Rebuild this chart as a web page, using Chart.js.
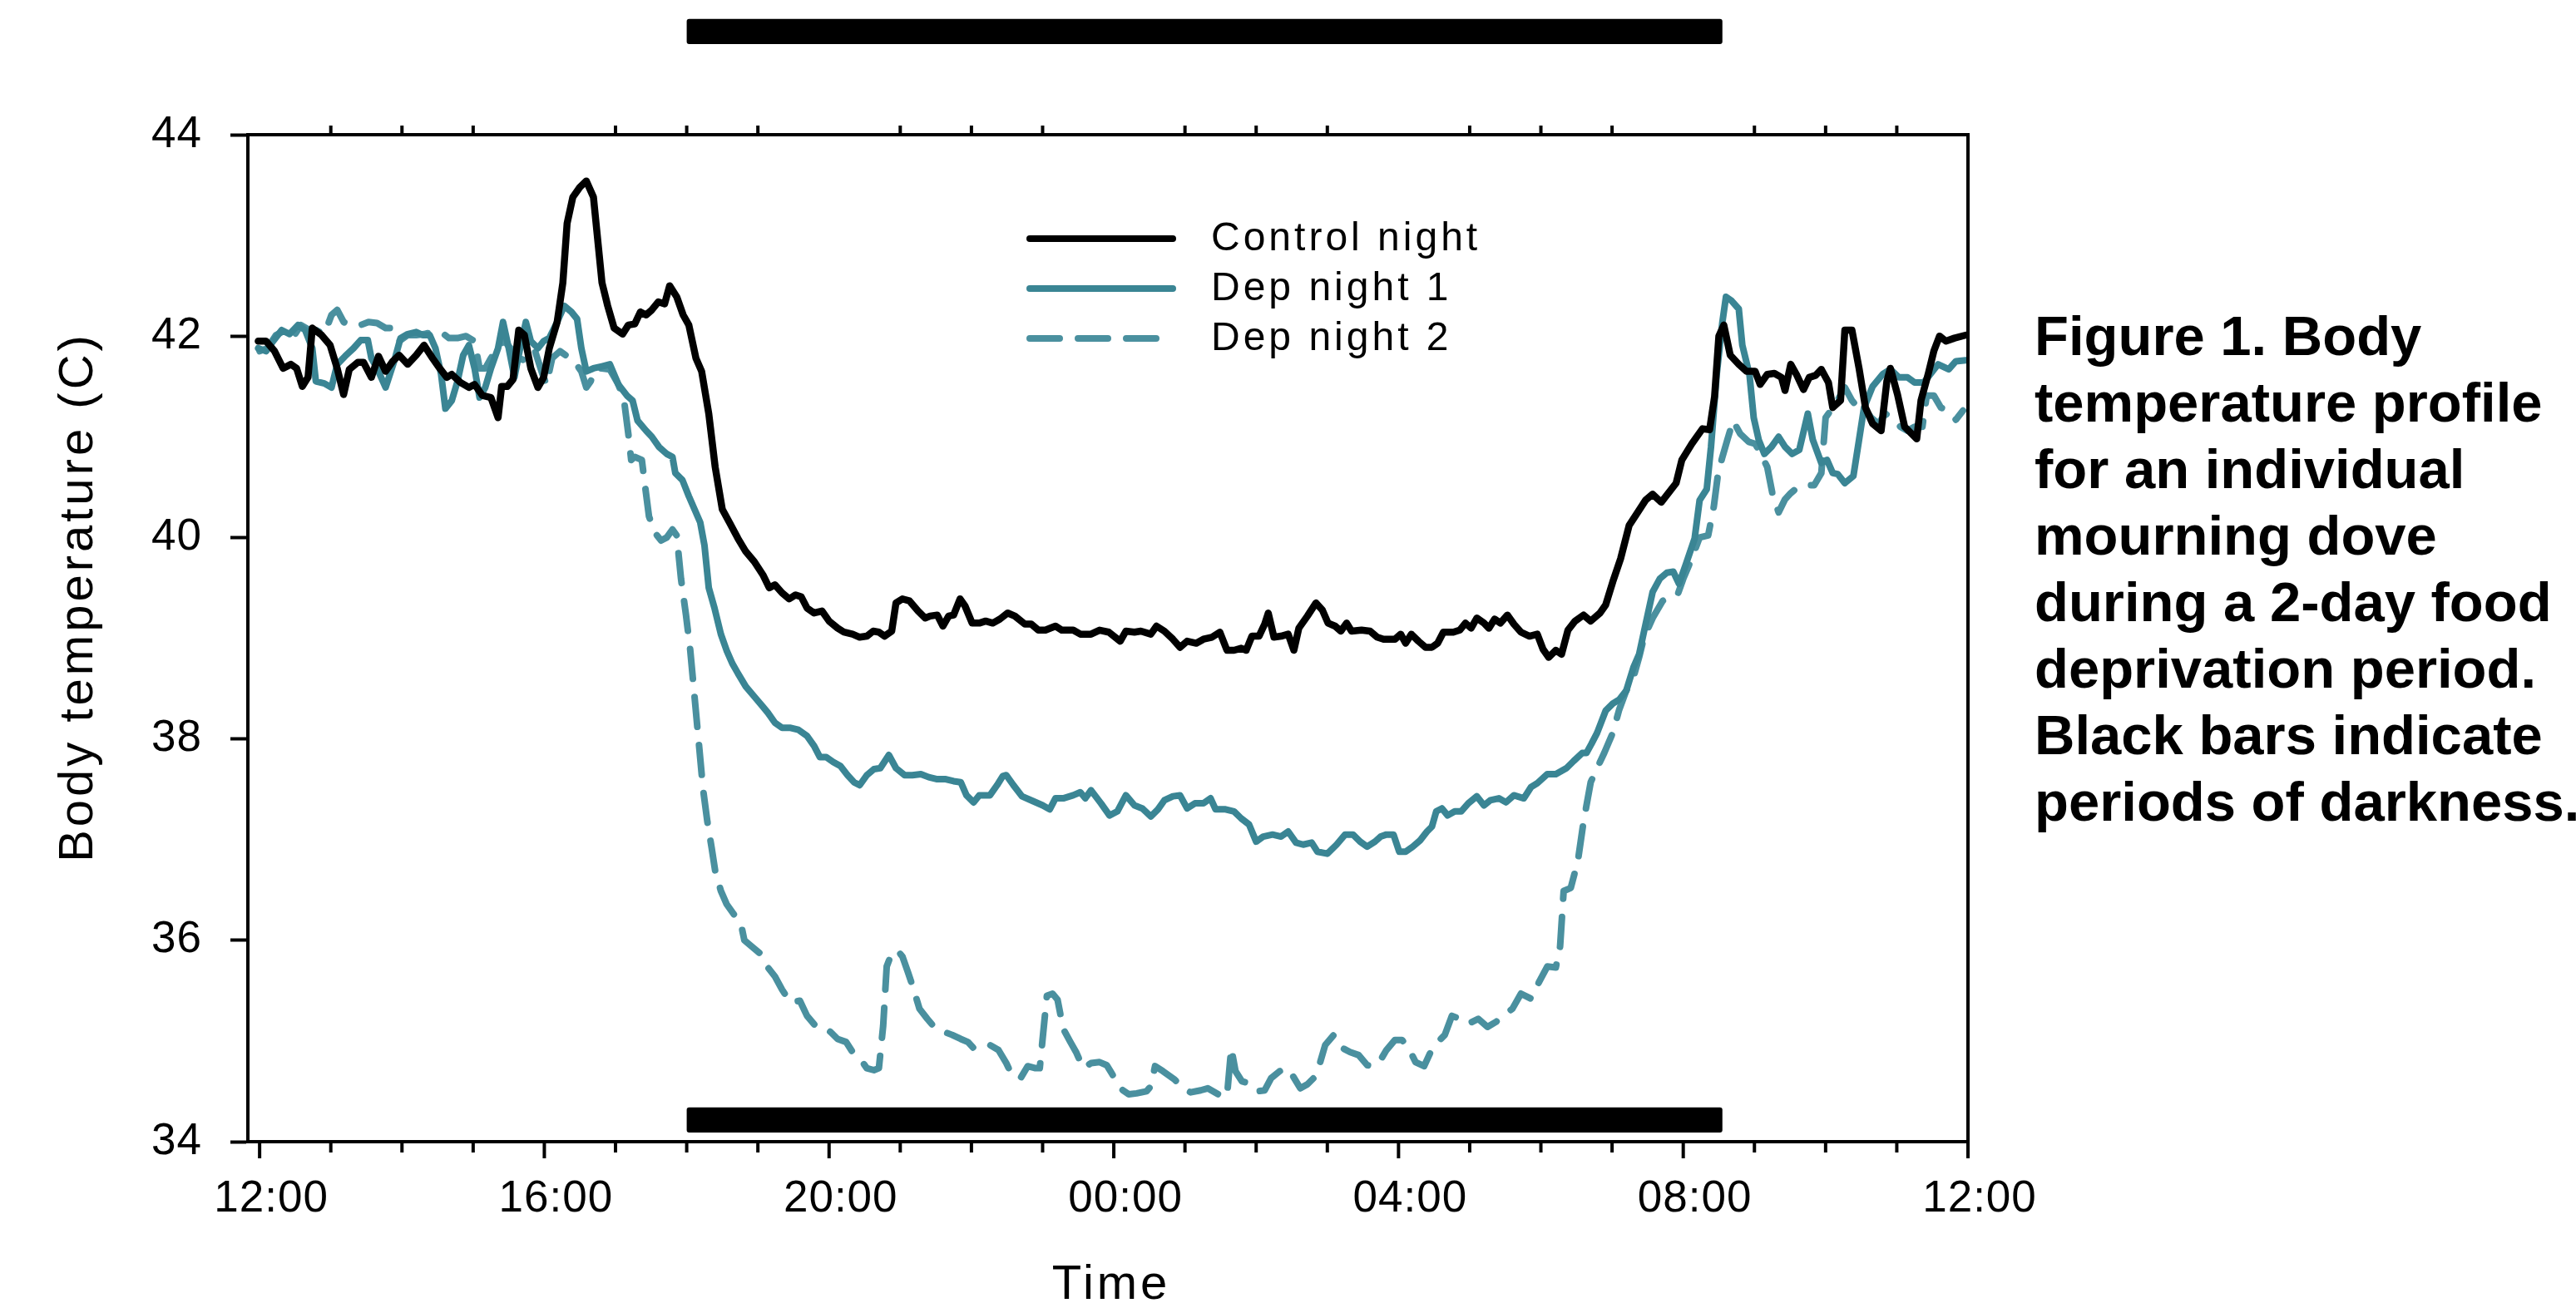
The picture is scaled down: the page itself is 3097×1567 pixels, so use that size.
<!DOCTYPE html>
<html>
<head>
<meta charset="utf-8">
<script src="https://cdn.jsdelivr.net/npm/chart.js@4.4.1/dist/chart.umd.min.js"></script>
<style>
  html, body { margin: 0; padding: 0; background: #ffffff; }
  #wrap { position: relative; width: 3097px; height: 1567px; overflow: hidden; }
  #c { position: absolute; left: 0; top: 0; }
  #caption { position: absolute; left: 2446px; top: 364px; font: bold 67px "Liberation Sans", Arial, sans-serif;
             line-height: 80px; white-space: pre; color: #000; }
</style>
</head>
<body>
<div id="wrap">
  <canvas id="c" width="3097" height="1567"></canvas>
  <div id="caption"></div>
</div>
<script>
// ---------------- DATA (hours after 12:00 noon, body temperature in C) ----------------
const seriesLabels = ['Control night', 'Dep night 1', 'Dep night 2'];
const tickHours  = [0, 4, 8, 12, 16, 20, 24];
const tickLabels = ['12:00', '16:00', '20:00', '00:00', '04:00', '08:00', '12:00'];
const yTicks = [34, 36, 38, 40, 42, 44];
const darkPeriod = [6.0, 20.55];          // 18:00 -> ~08:33
const captionLines = ['Figure 1. Body', 'temperature profile', 'for an individual', 'mourning dove',
  'during a 2-day food', 'deprivation period.', 'Black bars indicate', 'periods of darkness.'];

const controlNight = [[-0.02,41.95],[0.09,41.95],[0.21,41.85],[0.33,41.68],[0.44,41.72],[0.52,41.68],[0.60,41.50],[0.68,41.59],[0.74,42.08],[0.87,42.01],[0.99,41.91],[1.09,41.68],[1.18,41.42],[1.26,41.67],[1.38,41.74],[1.46,41.74],[1.57,41.59],[1.67,41.80],[1.77,41.65],[1.87,41.75],[1.96,41.81],[2.08,41.72],[2.20,41.81],[2.31,41.91],[2.43,41.78],[2.53,41.68],[2.63,41.59],[2.70,41.62],[2.82,41.54],[2.94,41.49],[3.02,41.52],[3.13,41.41],[3.25,41.39],[3.35,41.19],[3.40,41.50],[3.48,41.50],[3.56,41.57],[3.64,42.06],[3.72,42.01],[3.81,41.68],[3.91,41.49],[3.99,41.59],[4.07,41.88],[4.18,42.14],[4.26,42.53],[4.32,43.12],[4.40,43.38],[4.50,43.48],[4.59,43.54],[4.69,43.38],[4.81,42.53],[4.89,42.30],[4.98,42.08],[5.10,42.02],[5.18,42.11],[5.27,42.12],[5.35,42.24],[5.43,42.21],[5.51,42.26],[5.60,42.34],[5.69,42.32],[5.76,42.50],[5.86,42.39],[5.95,42.21],[6.03,42.11],[6.13,41.78],[6.21,41.65],[6.31,41.23],[6.40,40.70],[6.50,40.28],[6.60,40.15],[6.72,39.99],[6.83,39.86],[6.95,39.76],[7.07,39.63],[7.16,39.50],[7.24,39.53],[7.34,39.45],[7.44,39.39],[7.53,39.43],[7.61,39.41],[7.69,39.30],[7.79,39.25],[7.90,39.27],[8.00,39.17],[8.12,39.10],[8.21,39.06],[8.33,39.04],[8.43,39.01],[8.53,39.02],[8.62,39.07],[8.70,39.06],[8.78,39.02],[8.88,39.07],[8.94,39.35],[9.03,39.39],[9.13,39.37],[9.25,39.27],[9.35,39.20],[9.42,39.22],[9.52,39.23],[9.60,39.12],[9.68,39.22],[9.75,39.23],[9.84,39.39],[9.91,39.32],[10.01,39.15],[10.11,39.15],[10.20,39.17],[10.30,39.15],[10.40,39.19],[10.51,39.25],[10.61,39.22],[10.75,39.14],[10.84,39.14],[10.94,39.08],[11.04,39.08],[11.18,39.12],[11.27,39.08],[11.43,39.08],[11.53,39.04],[11.68,39.04],[11.80,39.08],[11.93,39.06],[12.09,38.97],[12.17,39.07],[12.29,39.06],[12.38,39.07],[12.52,39.04],[12.60,39.12],[12.71,39.07],[12.83,38.99],[12.93,38.91],[13.03,38.97],[13.16,38.95],[13.26,38.99],[13.38,39.01],[13.49,39.06],[13.59,38.88],[13.69,38.88],[13.79,38.90],[13.86,38.88],[13.94,39.02],[14.04,39.02],[14.12,39.14],[14.17,39.25],[14.25,39.01],[14.35,39.02],[14.45,39.04],[14.53,38.88],[14.60,39.10],[14.72,39.22],[14.84,39.35],[14.93,39.28],[15.01,39.15],[15.11,39.12],[15.19,39.07],[15.27,39.15],[15.34,39.07],[15.48,39.08],[15.60,39.07],[15.70,39.01],[15.79,38.99],[15.95,38.99],[16.03,39.04],[16.10,38.95],[16.18,39.04],[16.28,38.97],[16.38,38.91],[16.47,38.91],[16.55,38.95],[16.63,39.06],[16.77,39.06],[16.86,39.08],[16.94,39.15],[17.02,39.10],[17.10,39.20],[17.20,39.15],[17.27,39.10],[17.35,39.19],[17.43,39.15],[17.53,39.23],[17.62,39.14],[17.72,39.06],[17.84,39.02],[17.95,39.04],[18.03,38.89],[18.11,38.81],[18.21,38.88],[18.29,38.84],[18.38,39.08],[18.48,39.17],[18.60,39.23],[18.70,39.17],[18.83,39.25],[18.91,39.33],[19.01,39.56],[19.12,39.79],[19.24,40.12],[19.36,40.25],[19.47,40.37],[19.57,40.43],[19.69,40.35],[19.79,40.44],[19.90,40.54],[19.98,40.77],[20.12,40.93],[20.27,41.08],[20.37,41.07],[20.44,41.40],[20.50,42.00],[20.57,42.11],[20.66,41.81],[20.78,41.72],[20.89,41.65],[21.01,41.65],[21.08,41.52],[21.18,41.62],[21.28,41.63],[21.38,41.59],[21.43,41.46],[21.51,41.72],[21.59,41.62],[21.69,41.47],[21.77,41.59],[21.86,41.61],[21.94,41.67],[22.04,41.54],[22.10,41.29],[22.21,41.36],[22.27,42.06],[22.37,42.06],[22.47,41.68],[22.56,41.29],[22.66,41.13],[22.78,41.06],[22.86,41.55],[22.91,41.68],[23.01,41.42],[23.11,41.10],[23.21,41.03],[23.28,40.98],[23.34,41.36],[23.44,41.62],[23.52,41.85],[23.60,42.00],[23.69,41.95],[23.81,41.98],[23.97,42.01]];

const depNight1 = [[-0.02,41.88],[0.09,41.85],[0.19,41.95],[0.31,42.06],[0.42,42.02],[0.54,42.11],[0.64,42.06],[0.74,41.88],[0.79,41.55],[0.91,41.53],[1.01,41.49],[1.09,41.72],[1.20,41.80],[1.32,41.88],[1.42,41.96],[1.52,41.96],[1.57,41.78],[1.65,41.68],[1.77,41.49],[1.89,41.75],[1.98,41.98],[2.08,42.02],[2.20,42.04],[2.29,42.01],[2.39,42.01],[2.47,41.88],[2.55,41.62],[2.61,41.28],[2.70,41.36],[2.78,41.55],[2.86,41.81],[2.94,41.91],[3.02,41.68],[3.09,41.39],[3.17,41.49],[3.25,41.68],[3.35,41.88],[3.42,42.14],[3.50,41.88],[3.58,41.59],[3.66,41.88],[3.74,42.14],[3.81,41.95],[3.91,41.88],[3.99,41.95],[4.07,41.98],[4.18,42.14],[4.28,42.30],[4.38,42.24],[4.46,42.17],[4.52,41.88],[4.59,41.65],[4.69,41.68],[4.81,41.70],[4.92,41.72],[5.04,41.52],[5.16,41.41],[5.24,41.36],[5.31,41.16],[5.43,41.06],[5.51,41.00],[5.61,40.90],[5.72,40.83],[5.80,40.80],[5.84,40.64],[5.94,40.57],[6.03,40.41],[6.11,40.28],[6.19,40.15],[6.25,39.92],[6.31,39.50],[6.39,39.30],[6.48,39.04],[6.56,38.88],[6.64,38.75],[6.72,38.65],[6.83,38.52],[6.95,38.42],[7.07,38.32],[7.14,38.26],[7.24,38.16],[7.34,38.11],[7.46,38.11],[7.57,38.09],[7.69,38.03],[7.79,37.93],[7.87,37.82],[7.96,37.82],[8.06,37.77],[8.16,37.73],[8.26,37.64],[8.35,37.57],[8.43,37.54],[8.53,37.64],[8.63,37.70],[8.72,37.71],[8.84,37.84],[8.94,37.71],[9.06,37.64],[9.17,37.64],[9.29,37.65],[9.40,37.62],[9.52,37.60],[9.64,37.60],[9.75,37.58],[9.85,37.57],[9.93,37.44],[10.03,37.37],[10.11,37.44],[10.26,37.44],[10.36,37.54],[10.44,37.63],[10.49,37.64],[10.59,37.54],[10.71,37.43],[10.84,37.39],[11.00,37.34],[11.10,37.30],[11.18,37.41],[11.29,37.41],[11.43,37.44],[11.53,37.47],[11.60,37.41],[11.68,37.49],[11.82,37.36],[11.94,37.24],[12.05,37.28],[12.17,37.44],[12.29,37.34],[12.40,37.31],[12.52,37.23],[12.62,37.30],[12.71,37.39],[12.83,37.43],[12.93,37.44],[13.03,37.31],[13.14,37.36],[13.26,37.36],[13.36,37.41],[13.43,37.30],[13.57,37.30],[13.69,37.28],[13.79,37.21],[13.90,37.15],[14.00,36.98],[14.10,37.03],[14.23,37.05],[14.35,37.03],[14.45,37.08],[14.56,36.97],[14.66,36.95],[14.78,36.97],[14.86,36.88],[15.00,36.86],[15.13,36.95],[15.25,37.05],[15.36,37.05],[15.46,36.98],[15.56,36.93],[15.67,36.98],[15.75,37.03],[15.83,37.05],[15.93,37.05],[16.01,36.88],[16.10,36.88],[16.20,36.93],[16.30,36.99],[16.40,37.08],[16.47,37.13],[16.53,37.28],[16.61,37.31],[16.69,37.24],[16.79,37.28],[16.88,37.28],[16.98,37.36],[17.10,37.43],[17.20,37.34],[17.29,37.39],[17.41,37.41],[17.51,37.37],[17.62,37.44],[17.76,37.41],[17.86,37.52],[17.95,37.56],[18.09,37.65],[18.21,37.65],[18.36,37.71],[18.46,37.78],[18.58,37.86],[18.64,37.86],[18.71,37.95],[18.79,38.06],[18.91,38.28],[19.01,38.35],[19.10,38.39],[19.20,38.48],[19.30,38.71],[19.38,38.84],[19.45,39.07],[19.57,39.46],[19.67,39.59],[19.77,39.65],[19.86,39.66],[19.94,39.54],[20.04,39.74],[20.16,39.99],[20.23,40.37],[20.33,40.48],[20.39,40.90],[20.47,41.62],[20.55,42.14],[20.60,42.39],[20.68,42.35],[20.78,42.27],[20.83,41.91],[20.93,41.62],[20.99,41.19],[21.06,40.97],[21.14,40.83],[21.24,40.90],[21.34,41.00],[21.43,40.90],[21.53,40.83],[21.63,40.87],[21.75,41.23],[21.82,40.97],[21.94,40.74],[22.02,40.77],[22.10,40.64],[22.17,40.63],[22.27,40.54],[22.39,40.61],[22.47,40.97],[22.54,41.29],[22.66,41.50],[22.80,41.62],[22.91,41.67],[23.03,41.59],[23.15,41.59],[23.25,41.54],[23.38,41.54],[23.48,41.63],[23.58,41.72],[23.73,41.67],[23.83,41.75],[23.97,41.76]];

const depNight2 = [[0.00,41.85],[0.11,41.88],[0.23,42.01],[0.37,42.06],[0.48,42.00],[0.58,42.11],[0.70,42.06],[0.79,42.06],[0.91,42.02],[1.01,42.21],[1.09,42.26],[1.18,42.14],[1.26,42.11],[1.42,42.11],[1.53,42.14],[1.65,42.13],[1.77,42.08],[1.87,42.08],[1.96,41.95],[2.08,42.01],[2.20,42.01],[2.31,42.02],[2.43,42.04],[2.55,42.04],[2.66,41.98],[2.78,41.98],[2.90,42.00],[3.02,41.95],[3.09,41.68],[3.17,41.68],[3.25,41.78],[3.35,41.91],[3.44,41.95],[3.56,41.85],[3.64,41.78],[3.76,41.75],[3.87,41.85],[3.97,41.63],[4.03,41.52],[4.11,41.78],[4.22,41.85],[4.30,41.81],[4.42,41.75],[4.52,41.65],[4.59,41.49],[4.65,41.55],[4.73,41.68],[4.81,41.68],[4.92,41.67],[5.04,41.52],[5.12,41.36],[5.18,41.03],[5.22,40.77],[5.27,40.80],[5.37,40.77],[5.41,40.54],[5.47,40.21],[5.55,40.05],[5.64,39.97],[5.72,40.00],[5.80,40.08],[5.86,40.02],[5.92,39.59],[5.99,39.23],[6.05,38.88],[6.11,38.42],[6.17,37.96],[6.23,37.50],[6.29,37.18],[6.35,36.92],[6.40,36.69],[6.48,36.49],[6.56,36.36],[6.66,36.26],[6.76,36.17],[6.81,36.00],[6.91,35.94],[7.03,35.87],[7.13,35.74],[7.24,35.64],[7.34,35.51],[7.46,35.38],[7.59,35.40],[7.69,35.25],[7.81,35.15],[7.92,35.14],[8.02,35.09],[8.12,35.02],[8.24,34.99],[8.33,34.89],[8.43,34.83],[8.53,34.73],[8.63,34.71],[8.70,34.73],[8.76,35.15],[8.81,35.74],[8.88,35.87],[8.96,35.90],[9.03,35.84],[9.11,35.68],[9.19,35.51],[9.27,35.32],[9.38,35.22],[9.50,35.12],[9.62,35.09],[9.73,35.06],[9.85,35.02],[9.95,34.99],[10.03,34.93],[10.14,34.93],[10.26,34.96],[10.38,34.91],[10.49,34.78],[10.57,34.66],[10.69,34.63],[10.79,34.75],[10.90,34.73],[10.96,34.73],[11.00,35.02],[11.06,35.45],[11.14,35.47],[11.21,35.41],[11.29,35.12],[11.39,34.99],[11.47,34.89],[11.57,34.73],[11.68,34.78],[11.80,34.79],[11.90,34.76],[11.97,34.68],[12.09,34.53],[12.21,34.47],[12.32,34.48],[12.46,34.50],[12.52,34.55],[12.58,34.75],[12.69,34.70],[12.85,34.62],[12.97,34.53],[13.08,34.49],[13.22,34.51],[13.32,34.53],[13.47,34.47],[13.59,34.45],[13.65,34.93],[13.71,34.70],[13.80,34.60],[13.90,34.58],[14.02,34.50],[14.12,34.51],[14.21,34.63],[14.33,34.70],[14.43,34.73],[14.51,34.66],[14.62,34.53],[14.72,34.57],[14.82,34.64],[14.90,34.79],[14.97,34.96],[15.09,35.06],[15.21,34.93],[15.32,34.89],[15.44,34.86],[15.56,34.76],[15.64,34.75],[15.73,34.79],[15.83,34.91],[15.95,35.01],[16.05,35.01],[16.14,34.93],[16.24,34.79],[16.36,34.75],[16.45,34.89],[16.55,34.99],[16.65,35.06],[16.75,35.25],[16.86,35.22],[16.98,35.17],[17.12,35.22],[17.25,35.14],[17.37,35.19],[17.47,35.25],[17.60,35.32],[17.72,35.47],[17.86,35.42],[17.97,35.58],[18.09,35.74],[18.21,35.73],[18.27,35.94],[18.32,36.49],[18.42,36.52],[18.52,36.79],[18.60,37.18],[18.70,37.57],[18.79,37.71],[18.89,37.86],[19.01,38.06],[19.10,38.29],[19.20,38.48],[19.30,38.61],[19.38,38.81],[19.45,39.01],[19.57,39.20],[19.71,39.37],[19.81,39.41],[19.92,39.43],[20.00,39.59],[20.12,39.79],[20.23,40.00],[20.35,40.02],[20.43,40.31],[20.49,40.64],[20.55,40.80],[20.62,40.97],[20.70,41.16],[20.80,41.03],[20.92,40.95],[21.01,40.93],[21.06,40.87],[21.18,40.70],[21.26,40.41],[21.34,40.25],[21.43,40.38],[21.51,40.44],[21.61,40.50],[21.73,40.52],[21.84,40.52],[21.94,40.64],[22.00,41.19],[22.10,41.29],[22.19,41.39],[22.27,41.49],[22.37,41.36],[22.47,41.28],[22.54,41.29],[22.64,41.19],[22.74,41.13],[22.84,41.23],[22.95,41.17],[23.05,41.10],[23.15,41.06],[23.25,41.10],[23.36,41.10],[23.42,41.41],[23.52,41.41],[23.62,41.29],[23.71,41.26],[23.83,41.17],[23.93,41.26]];

// ---------------- STYLES ----------------
const FONT = '"Liberation Sans", Arial, sans-serif';
const colors = ['#000000', '#3a8594', '#4a909f'];
const dashes = [[], [], [36, 22]];
const widths = [8.5, 8, 8];

document.getElementById('caption').textContent = captionLines.join('\n');

const toXY = arr => arr.map(p => ({ x: p[0], y: p[1] }));

const decor = {
  id: 'decor',
  beforeDraw(chart) {
    try { chart.ctx.letterSpacing = '1px'; } catch (e) {}
  },
  afterDraw(chart) {
    const { ctx, chartArea: a, scales: { x, y } } = chart;
    ctx.save();
    ctx.strokeStyle = '#000';
    ctx.lineWidth = 4;
    ctx.lineCap = 'butt';
    ctx.setLineDash([]);
    // top and right frame
    ctx.beginPath();
    ctx.moveTo(a.left - 2, a.top);
    ctx.lineTo(a.right, a.top);
    ctx.lineTo(a.right, a.bottom);
    ctx.stroke();
    // hour ticks (bottom: all hours; top: minor only)
    for (let h = 0; h <= 24; h++) {
      const px = x.getPixelForValue(h);
      const major = h % 4 === 0;
      ctx.beginPath();
      ctx.moveTo(px, a.bottom);
      ctx.lineTo(px, a.bottom + (major ? 20 : 13));
      ctx.stroke();
      if (!major) {
        ctx.beginPath();
        ctx.moveTo(px, a.top);
        ctx.lineTo(px, a.top - 11);
        ctx.stroke();
      }
    }
    // darkness bars
    ctx.fillStyle = '#000';
    const x0 = x.getPixelForValue(darkPeriod[0]);
    const x1 = x.getPixelForValue(darkPeriod[1]);
    const bars = [[45.15, 44.90], [34.34, 34.09]];
    bars.forEach(b => {
      const yt = y.getPixelForValue(b[0]);
      const yb = y.getPixelForValue(b[1]);
      ctx.beginPath();
      if (ctx.roundRect) ctx.roundRect(x0, yt, x1 - x0, yb - yt, 3); else ctx.rect(x0, yt, x1 - x0, yb - yt);
      ctx.fill();
    });
    // legend
    const ds = chart.data.datasets;
    ctx.font = '48px ' + FONT;
    ctx.textBaseline = 'middle';
    ctx.textAlign = 'left';
    try { ctx.letterSpacing = '4px'; } catch (e) {}
    ds.forEach((d, i) => {
      const yy = 287 + i * 60;
      ctx.strokeStyle = d.borderColor;
      ctx.lineWidth = 8;
      ctx.lineCap = 'round';
      ctx.setLineDash(dashes[i]);
      ctx.beginPath();
      ctx.moveTo(1238, yy);
      ctx.lineTo(i === 2 ? 1390 : 1410, yy);
      ctx.stroke();
      ctx.fillStyle = '#000';
      ctx.fillText(d.label, 1456, yy + 1);
    });
    ctx.setLineDash([]);
    // axis titles
    ctx.font = '58px ' + FONT;
    ctx.fillStyle = '#000';
    ctx.textAlign = 'center';
    ctx.textBaseline = 'alphabetic';
    ctx.fillText('Time', (a.left + a.right) / 2 + 4, 1562);
    ctx.save();
    ctx.translate(95, 718);
    ctx.rotate(-Math.PI / 2);
    ctx.textBaseline = 'middle';
    ctx.fillText('Body temperature (C)', 0, 0);
    ctx.restore();
    ctx.restore();
    try { ctx.letterSpacing = '0px'; } catch (e) {}
  }
};

new Chart(document.getElementById('c'), {
  type: 'line',
  data: {
    datasets: [controlNight, depNight1, depNight2].map((arr, i) => ({
      label: seriesLabels[i],
      data: toXY(arr),
      borderColor: colors[i],
      borderWidth: widths[i],
      borderDash: dashes[i],
      borderCapStyle: 'round',
      borderJoinStyle: 'round',
      pointRadius: 0,
      tension: 0,
      fill: false
    }))
  },
  options: {
    responsive: false,
    animation: false,
    devicePixelRatio: 1,
    layout: { padding: { top: 162, right: 731, bottom: 0, left: 0 } },
    plugins: { legend: { display: false }, tooltip: { enabled: false }, title: { display: false } },
    scales: {
      x: {
        type: 'linear',
        min: -0.165,
        max: 24,
        afterFit: s => { s.height = 194; },
        afterBuildTicks: s => { s.ticks = tickHours.map(v => ({ value: v })); },
        grid: { display: false, drawTicks: false },
        border: { display: true, color: '#000', width: 4 },
        ticks: {
          autoSkip: false,
          maxRotation: 0,
          padding: 38,
          labelOffset: 14,
          color: '#000',
          font: { family: FONT, size: 53 },
          callback: (v, i) => tickLabels[i]
        }
      },
      y: {
        min: 34,
        max: 44,
        afterFit: s => { s.width = 298; },
        afterBuildTicks: s => { s.ticks = yTicks.map(v => ({ value: v })); },
        grid: { display: true, drawOnChartArea: false, drawTicks: true, tickLength: 21, tickWidth: 4, tickColor: '#000' },
        border: { display: true, color: '#000', width: 4 },
        ticks: {
          padding: 34,
          color: '#000',
          font: { family: FONT, size: 53 },
          callback: v => String(v)
        }
      }
    }
  },
  plugins: [decor]
});
</script>
</body>
</html>
